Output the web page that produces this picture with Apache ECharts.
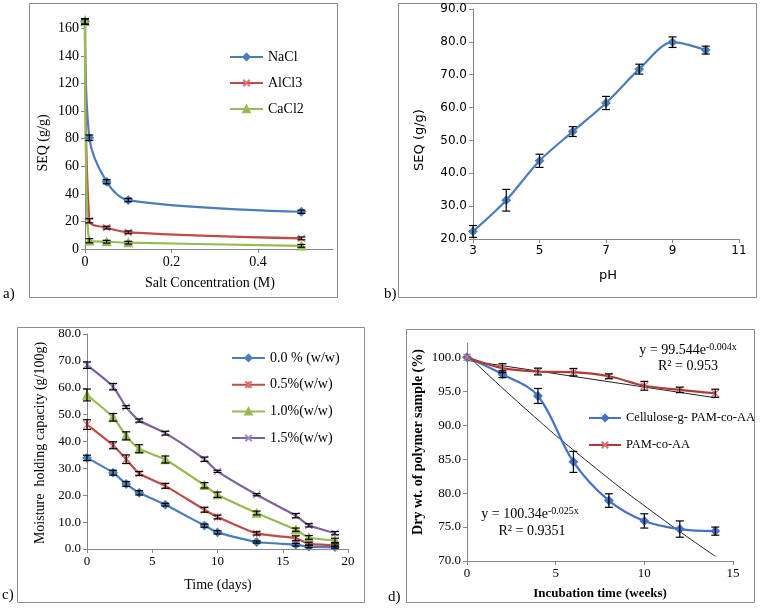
<!DOCTYPE html>
<html><head><meta charset="utf-8">
<script src="https://cdn.jsdelivr.net/npm/echarts@6/dist/echarts.min.js"></script>
<style>html,body{margin:0;padding:0;background:#fff}#c{width:761px;height:611px}</style>
</head><body><div id="c"></div>
<script>
// ---- Panel a: salt concentration ----
const aX = [0, 0.01, 0.05, 0.1, 0.5];
const aNaCl = [165, 80.7, 48.8, 35.5, 27.0];
const aAlCl3 = [165, 20.5, 15.5, 12.1, 7.7];
const aCaCl2 = [165, 6.0, 5.3, 4.6, 2.3];
const aNaClErr = [2, 2, 1.5, 1.2, 1.2];
const aAlCl3Err = [2, 1.5, 1.0, 1.0, 1.0];
const aCaCl2Err = [2, 1.5, 1.0, 1.0, 1.0];
const aXTicks = [0, 0.2, 0.4];
const aYTicks = [0, 20, 40, 60, 80, 100, 120, 140, 160];
// ---- Panel b: pH ----
const bX = [3, 4, 5, 6, 7, 8, 9, 10];
const bSEQ = [22.3, 31.8, 43.8, 52.7, 61.4, 71.7, 79.9, 77.5];
const bErr = [1.8, 3.3, 2.0, 1.5, 2.0, 1.5, 1.6, 1.2];
const bXTicks = [3, 5, 7, 9, 11];
// ---- Panel c: moisture holding ----
const cX = [0, 2, 3, 4, 6, 9, 10, 13, 16, 17, 19];
const c00 = [33.9, 28.4, 24.2, 20.9, 16.5, 8.7, 6.2, 2.6, 1.6, 0.9, 0.7];
const c05 = [46.3, 38.6, 33.4, 28.1, 23.5, 14.6, 11.9, 5.8, 4.0, 2.0, 1.4];
const c10 = [57.3, 49.0, 42.1, 37.3, 33.3, 23.7, 20.2, 13.4, 7.2, 4.3, 3.2];
const c15 = [68.4, 60.4, 52.8, 47.8, 43.1, 33.4, 28.9, 20.2, 12.4, 8.8, 5.9];
const c00Err = [1.0, 0.9, 0.9, 0.8, 0.5, 0.6, 0.6, 0.4, 0.5, 0.4, 0.4];
const c05Err = [1.8, 1.3, 1.6, 0.7, 0.9, 0.9, 0.7, 0.6, 0.9, 0.5, 0.5];
const c10Err = [2.2, 1.4, 1.5, 1.5, 1.3, 1.0, 1.0, 0.7, 0.6, 0.7, 0.8];
const c15Err = [1.2, 1.2, 0.5, 0.6, 0.7, 0.8, 0.4, 0.4, 0.8, 0.6, 0.6];
// ---- Panel d: biodegradation ----
const dX = [0, 2, 4, 6, 8, 10, 12, 14];
const dCell = [100, 97.5, 94.3, 84.6, 78.9, 75.9, 74.7, 74.4];
const dPAM = [100, 98.4, 97.9, 97.8, 97.2, 95.8, 95.2, 94.7];
const dCellErr = [0, 0.5, 1.1, 1.55, 1.0, 1.05, 1.2, 0.6];
const dPAMErr = [0, 0.65, 0.5, 0.55, 0.35, 0.65, 0.4, 0.6];
const dTrendPAMX = [0, 14];
const dTrendPAM = [99.54, 94.04];
const dTrendCellX = [0, 3.5, 7, 10.5, 14];
const dTrendCell = [100.34, 91.94, 84.22, 77.17, 70.7];
const dYTicks = [70, 75, 80, 85, 90, 95, 100];

const BLUE = '#4A7EBB', RED = '#BE4B48', GREEN = '#98B954', PURPLE = '#7D60A0';
const SERIF = '"Liberation Serif", "Times New Roman", serif';
const SANS = '"DejaVu Sans", Verdana, sans-serif';
const XPATH = 'path://M0,0L10,10M10,0L0,10';
const STARPATH = 'path://M0,0L10,10M10,0L0,10M5,0L5,10';

const pairs = (xs, ys) => xs.map((x, i) => [x, ys[i]]);
const errs = (xs, ys, es) => xs.map((x, i) => [x, ys[i] - es[i], ys[i] + es[i]]);

function errRender(params, api) {
  const x = api.value(0), lo = api.value(1), hi = api.value(2);
  if (hi - lo <= 0) return null;
  const p1 = api.coord([x, lo]), p2 = api.coord([x, hi]);
  const w = 4, st = {stroke: '#000', lineWidth: 1.2};
  return {type: 'group', children: [
    {type: 'line', shape: {x1: p1[0], y1: p1[1], x2: p2[0], y2: p2[1]}, style: st},
    {type: 'line', shape: {x1: p1[0] - w, y1: p1[1], x2: p1[0] + w, y2: p1[1]}, style: st},
    {type: 'line', shape: {x1: p2[0] - w, y1: p2[1], x2: p2[0] + w, y2: p2[1]}, style: st}
  ]};
}
function errSeries(idx, data) {
  return {type: 'custom', xAxisIndex: idx, yAxisIndex: idx, renderItem: errRender,
    data: data, encode: {x: 0, y: [1, 2]}, z: 5, silent: true};
}
function lineSeries(name, idx, data, color, symbol, size, smooth, extra) {
  return Object.assign({
    name, type: 'line', xAxisIndex: idx, yAxisIndex: idx, data,
    smooth: smooth, symbol, symbolSize: size, showSymbol: true,
    lineStyle: {color, width: 2.2}, itemStyle: {color, borderColor: color, borderWidth: 1.3},
    z: 3, silent: true
  }, extra || {});
}

const axisCommon = (font, size) => ({
  axisLine: {show: true, onZero: false, lineStyle: {color: '#868686', width: 1}},
  axisTick: {show: true, inside: false, length: 4, lineStyle: {color: '#868686'}},
  splitLine: {show: false},
  axisLabel: {color: '#000', fontFamily: font, fontSize: size, margin: 6}
});

function mkAxis(base, o) {
  const r = Object.assign({}, base, o);
  r.axisLabel = Object.assign({}, base.axisLabel, o.axisLabel || {});
  r.axisTick = Object.assign({}, base.axisTick, o.axisTick || {});
  return r;
}

const sA = axisCommon(SERIF, 14), sB = axisCommon(SANS, 12), sC = axisCommon(SERIF, 13), sD = axisCommon(SERIF, 13);
const legText = (sz) => ({fontFamily: SERIF, fontSize: sz, color: '#000', lineHeight: 14});

const option = {
  animation: false,
  backgroundColor: '#fff',
  textStyle: {fontFamily: SERIF},
  grid: [
    {left: 85, top: 16, width: 248, height: 233},
    {left: 473, top: 9, width: 266, height: 230},
    {left: 87, top: 334, width: 261, height: 215},
    {left: 467, top: 343, width: 266, height: 218}
  ],
  xAxis: [
    mkAxis(sA, {type: 'value', gridIndex: 0, min: 0, max: 0.573,
      axisLabel: {customValues: aXTicks, formatter: v => String(+v.toFixed(2))}, axisTick: {customValues: aXTicks}}),
    mkAxis(sB, {type: 'value', gridIndex: 1, min: 3, max: 11,
      axisLabel: {customValues: bXTicks}, axisTick: {customValues: bXTicks}}),
    mkAxis(sC, {type: 'value', gridIndex: 2, min: 0, max: 20, interval: 5}),
    mkAxis(sD, {type: 'value', gridIndex: 3, min: 0, max: 15, interval: 5})
  ],
  yAxis: [
    mkAxis(sA, {type: 'value', gridIndex: 0, min: 0, max: 169,
      axisLabel: {customValues: aYTicks}, axisTick: {customValues: aYTicks}}),
    mkAxis(sB, {type: 'value', gridIndex: 1, min: 20, max: 90, interval: 10,
      axisLabel: {formatter: v => v.toFixed(1)}}),
    mkAxis(sC, {type: 'value', gridIndex: 2, min: 0, max: 80, interval: 10,
      axisLabel: {formatter: v => v.toFixed(1)}}),
    mkAxis(sD, {type: 'value', gridIndex: 3, min: 70, max: 102.1,
      axisLabel: {customValues: dYTicks, formatter: v => v.toFixed(1)}, axisTick: {customValues: dYTicks}})
  ],
  legend: [
    {data: ['NaCl', 'AlCl3', 'CaCl2'], orient: 'vertical', left: 224, top: 45,
      itemWidth: 33, itemHeight: 8, itemGap: 12, textStyle: legText(14)},
    {data: ['0.0 % (w/w)', '0.5%(w/w)', '1.0%(w/w)', '1.5%(w/w)'], orient: 'vertical', left: 226, top: 346,
      itemWidth: 33, itemHeight: 8, itemGap: 12.7, textStyle: legText(14)},
    {data: ['Cellulose-g- PAM-co-AA', 'PAM-co-AA'], orient: 'vertical', left: 583, top: 406,
      itemWidth: 32, itemHeight: 8, itemGap: 13, textStyle: legText(12.5)}
  ],
  series: [
    lineSeries('NaCl', 0, pairs(aX, aNaCl), BLUE, 'diamond', 8, 0.35),
    lineSeries('AlCl3', 0, pairs(aX, aAlCl3), RED, XPATH, 7, 0.35, {itemStyle: {color: '#E07070', borderColor: '#E07070', borderWidth: 1.3}}),
    lineSeries('CaCl2', 0, pairs(aX, aCaCl2), GREEN, 'triangle', 8, 0.35),
    errSeries(0, errs(aX, aNaCl, aNaClErr)),
    errSeries(0, errs(aX, aAlCl3, aAlCl3Err)),
    errSeries(0, errs(aX, aCaCl2, aCaCl2Err)),

    lineSeries('SEQ', 1, pairs(bX, bSEQ), BLUE, 'diamond', 8, 0.3),
    errSeries(1, errs(bX, bSEQ, bErr)),

    lineSeries('0.0 % (w/w)', 2, pairs(cX, c00), BLUE, 'diamond', 8, 0.2),
    lineSeries('0.5%(w/w)', 2, pairs(cX, c05), RED, STARPATH, 7, 0.2, {itemStyle: {color: '#E07070', borderColor: '#E07070', borderWidth: 1.2}}),
    lineSeries('1.0%(w/w)', 2, pairs(cX, c10), GREEN, 'triangle', 8, 0.2),
    lineSeries('1.5%(w/w)', 2, pairs(cX, c15), PURPLE, XPATH, 7, 0.2, {itemStyle: {color: '#A08CC0', borderColor: '#A08CC0', borderWidth: 1.2}}),
    errSeries(2, errs(cX, c00, c00Err)),
    errSeries(2, errs(cX, c05, c05Err)),
    errSeries(2, errs(cX, c10, c10Err)),
    errSeries(2, errs(cX, c15, c15Err)),

    lineSeries('Cellulose-g- PAM-co-AA', 3, pairs(dX, dCell), '#4472C4', 'diamond', 8, 0.35),
    lineSeries('PAM-co-AA', 3, pairs(dX, dPAM), '#B03A36', XPATH, 7, 0.35, {itemStyle: {color: '#E07070', borderColor: '#E07070', borderWidth: 1.2}}),
    {type: 'line', xAxisIndex: 3, yAxisIndex: 3, data: pairs(dTrendPAMX, dTrendPAM), symbol: 'none', smooth: false,
      lineStyle: {color: '#222', width: 1}, z: 2, silent: true},
    {type: 'line', xAxisIndex: 3, yAxisIndex: 3, data: pairs(dTrendCellX, dTrendCell), symbol: 'none', smooth: true,
      lineStyle: {color: '#222', width: 1}, z: 2, silent: true},
    errSeries(3, errs(dX, dCell, dCellErr)),
    errSeries(3, errs(dX, dPAM, dPAMErr))
  ],
  graphic: [
    // frames
    {type: 'rect', shape: {x: 29.5, y: 3.5, width: 308, height: 294}, style: {fill: 'none', stroke: '#8c8c8c', lineWidth: 1}, z: 0},
    {type: 'rect', shape: {x: 398.5, y: 3.5, width: 358, height: 294}, style: {fill: 'none', stroke: '#8c8c8c', lineWidth: 1}, z: 0},
    {type: 'rect', shape: {x: 17.5, y: 327.5, width: 347, height: 275}, style: {fill: 'none', stroke: '#8c8c8c', lineWidth: 1}, z: 0},
    {type: 'rect', shape: {x: 406.5, y: 329.5, width: 348, height: 273}, style: {fill: 'none', stroke: '#8c8c8c', lineWidth: 1}, z: 0},
    // panel labels
    {type: 'text', x: 3, y: 294, style: {text: 'a)', font: '15px ' + SERIF, fill: '#000', verticalAlign: 'middle'}},
    {type: 'text', x: 384, y: 294, style: {text: 'b)', font: '15px ' + SERIF, fill: '#000', verticalAlign: 'middle'}},
    {type: 'text', x: 2, y: 595, style: {text: 'c)', font: '15px ' + SERIF, fill: '#000', verticalAlign: 'middle'}},
    {type: 'text', x: 388, y: 597, style: {text: 'd)', font: '15px ' + SERIF, fill: '#000', verticalAlign: 'middle'}},
    // axis titles a
    {type: 'text', x: 210, y: 283, style: {text: 'Salt Concentration (M)', font: '14px ' + SERIF, fill: '#000', align: 'center', verticalAlign: 'middle'}},
    {type: 'text', x: 43, y: 143, rotation: Math.PI / 2, style: {text: 'SEQ (g/g)', font: '14px ' + SERIF, fill: '#000', align: 'center', verticalAlign: 'middle'}},
    // b
    {type: 'text', x: 608, y: 276, style: {text: 'pH', font: '13px ' + SANS, fill: '#000', align: 'center', verticalAlign: 'middle'}},
    {type: 'text', x: 420, y: 140, rotation: Math.PI / 2, style: {text: 'SEQ (g/g)', font: '13px ' + SANS, fill: '#000', align: 'center', verticalAlign: 'middle'}},
    // c
    {type: 'text', x: 218, y: 585, style: {text: 'Time (days)', font: '14px ' + SERIF, fill: '#000', align: 'center', verticalAlign: 'middle'}},
    {type: 'text', x: 40, y: 443, rotation: Math.PI / 2, style: {text: 'Moisture  holding capacity (g/100g)', font: '14px ' + SERIF, fill: '#000', align: 'center', verticalAlign: 'middle'}},
    // d
    {type: 'text', x: 600, y: 594, style: {text: 'Incubation time (weeks)', font: 'bold 13px ' + SERIF, fill: '#000', align: 'center', verticalAlign: 'middle'}},
    {type: 'text', x: 418, y: 442, rotation: Math.PI / 2, style: {text: 'Dry wt. of polymer sample (%)', font: 'bold 14px ' + SERIF, fill: '#000', align: 'center', verticalAlign: 'middle'}},
    // equations
    {type: 'text', x: 688, y: 350, style: {text: '{m|y = 99.544e}{s|-0.004x}', align: 'center', verticalAlign: 'middle',
      rich: {m: {fontFamily: SERIF, fontSize: 14, fill: '#000', lineHeight: 16}, s: {fontFamily: SERIF, fontSize: 10, fill: '#000', verticalAlign: 'top', lineHeight: 16}}}},
    {type: 'text', x: 688, y: 366, style: {text: 'R² = 0.953', font: '14px ' + SERIF, fill: '#000', align: 'center', verticalAlign: 'middle'}},
    {type: 'text', x: 530, y: 514, style: {text: '{m|y = 100.34e}{s|-0.025x}', align: 'center', verticalAlign: 'middle',
      rich: {m: {fontFamily: SERIF, fontSize: 14, fill: '#000', lineHeight: 16}, s: {fontFamily: SERIF, fontSize: 10, fill: '#000', verticalAlign: 'top', lineHeight: 16}}}},
    {type: 'text', x: 532, y: 531, style: {text: 'R² = 0.9351', font: '14px ' + SERIF, fill: '#000', align: 'center', verticalAlign: 'middle'}}
  ]
};
const chart = echarts.init(document.getElementById('c'), null, {renderer: 'canvas'});
chart.setOption(option);
</script></body></html>
